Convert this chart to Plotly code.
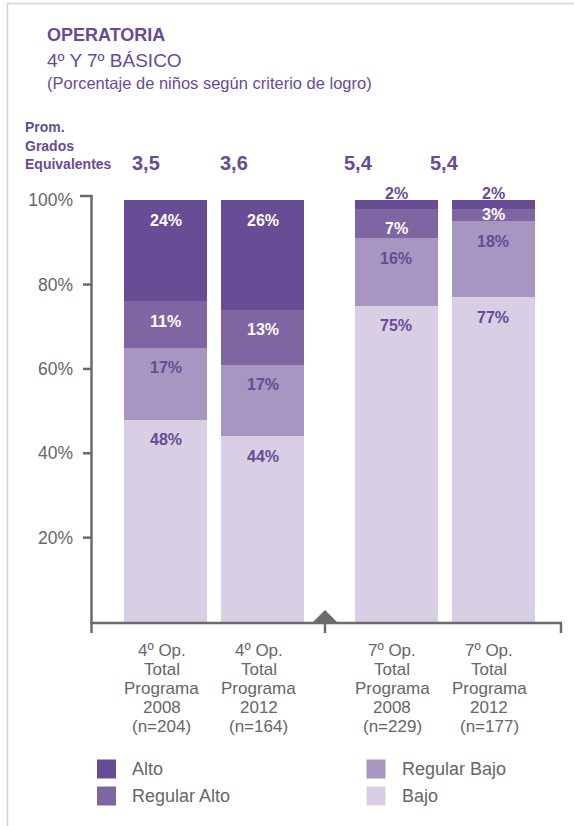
import plotly.graph_objects as go

# ---- data -------------------------------------------------------------
GRADES = ["4º", "4º", "7º", "7º"]
YEARS = ["2008", "2012", "2008", "2012"]
SAMPLE_N = [204, 164, 229, 177]
PROM_GRADOS = ["3,5", "3,6", "5,4", "5,4"]

LEVELS = ["Alto", "Regular Alto", "Regular Bajo", "Bajo"]
ALTO = [24, 26, 2, 2]
REGULAR_ALTO = [11, 13, 7, 3]
REGULAR_BAJO = [17, 17, 16, 18]
BAJO = [48, 44, 75, 77]

Y_TICKS = [20, 40, 60, 80, 100]

# ---- styling / layout constants ----------------------------------------
PURPLE = "#674b94"
GREY = "#666666"
AXIS_GREY = "#6b6b6b"
FONT = "Liberation Sans, Arial, sans-serif"
COLORS = {
    "Alto": "#684c96",
    "Regular Alto": "#7f66a3",
    "Regular Bajo": "#a795c2",
    "Bajo": "#d8cfe5",
}

W, H = 574, 826
L, R, T, B = 92, 13, 196, 204
PW, PH = W - L - R, H - T - B

# slot positions: two groups of two bars with a wider gap between groups
GROUP_GAP = 0.38
positions = [i + (GROUP_GAP if i >= 2 else 0.0) for i in range(len(GRADES))]
BAR_WIDTH = 0.856
X_RANGE = [-0.758, -0.758 + PW / 97.0]
Y_RANGE = [0, 101]


def px(x):
    """pixel x -> paper x"""
    return (x - L) / PW


def py(y):
    """pixel y -> paper y"""
    return (H - B - y) / PH


fig = go.Figure()

series = {"Bajo": BAJO, "Regular Bajo": REGULAR_BAJO,
          "Regular Alto": REGULAR_ALTO, "Alto": ALTO}
for name in ["Bajo", "Regular Bajo", "Regular Alto", "Alto"]:
    fig.add_trace(go.Bar(
        x=positions, y=series[name], name=name, width=BAR_WIDTH,
        marker=dict(color=COLORS[name], line=dict(width=0)),
        showlegend=False, hoverinfo="name+y",
    ))

annotations = []
shapes = []

# segment value labels
for i, xpos in enumerate(positions):
    base = 0
    for name in ["Bajo", "Regular Bajo", "Regular Alto", "Alto"]:
        v = series[name][i]
        top = base + v
        dark = name in ("Alto", "Regular Alto")
        if name == "Alto" and v < 5:
            y, shift, col = top, 7, PURPLE          # tiny top segment: label above bar
        elif v < 5:
            y, shift, col = base + v / 2, 0, "white"  # thin segment: centred
        else:
            y, shift, col = top, -20, "white" if dark else PURPLE
        annotations.append(dict(
            x=xpos, y=y, xref="x", yref="y", text=f"{v}%", showarrow=False,
            yshift=shift, yanchor="middle", xanchor="center",
            font=dict(family=FONT, size=16, color=col, weight="bold"),
        ))
        base = top

# average grade row
PROM_SHIFT = [-19.5, -28.5, -37.5, -48.5]
for i, xpos in enumerate(positions):
    annotations.append(dict(
        x=xpos, y=py(163), xref="x", yref="paper", text=PROM_GRADOS[i],
        showarrow=False, xshift=PROM_SHIFT[i], xanchor="center", yanchor="middle",
        font=dict(family=FONT, size=20, color=PURPLE, weight="bold"),
    ))
for txt, yy in zip(["Prom.", "Grados", "Equivalentes"], [127, 146, 164]):
    annotations.append(dict(
        x=px(23), y=py(yy), xref="paper", yref="paper", text=txt, showarrow=False,
        xanchor="left", yanchor="middle",
        font=dict(family=FONT, size=14, color=PURPLE, weight="bold"),
    ))

# titles
annotations += [
    dict(x=px(45), y=py(35), xref="paper", yref="paper", text="OPERATORIA",
         showarrow=False, xanchor="left", yanchor="middle",
         font=dict(family=FONT, size=18, color=PURPLE, weight="bold")),
    dict(x=px(45), y=py(60), xref="paper", yref="paper", text="4º Y 7º BÁSICO",
         showarrow=False, xanchor="left", yanchor="middle",
         font=dict(family=FONT, size=19, color=PURPLE)),
    dict(x=px(45), y=py(83), xref="paper", yref="paper",
         text="(Porcentaje de niños según criterio de logro)",
         showarrow=False, xanchor="left", yanchor="middle",
         font=dict(family=FONT, size=16.5, color=PURPLE)),
]

# category labels under the axis
for i, xpos in enumerate(positions):
    lines = [f"{GRADES[i]} Op.", "Total", "Programa", YEARS[i], f"(n={SAMPLE_N[i]})"]
    for k, line in enumerate(lines):
        annotations.append(dict(
            x=xpos, y=py(650 + 19 * k), xref="x", yref="paper", text=line,
            showarrow=False, xshift=-4, xanchor="center", yanchor="middle",
            font=dict(family=FONT, size=17, color=GREY),
        ))

# legend
legend_items = [("Alto", 97, 769), ("Regular Alto", 97, 796),
                ("Regular Bajo", 366.5, 769), ("Bajo", 366.5, 796)]
for name, lx, ly in legend_items:
    shapes.append(dict(type="rect", xref="paper", yref="paper",
                       x0=px(lx), x1=px(lx + 19), y0=py(ly - 9.5), y1=py(ly + 9.5),
                       fillcolor=COLORS[name], line=dict(width=0), layer="above"))
    annotations.append(dict(
        x=px(lx + 33), y=py(ly), xref="paper", yref="paper", text=name,
        showarrow=False, xanchor="left", yanchor="middle",
        font=dict(family=FONT, size=18, color=GREY),
    ))

# axes drawn as lines
AX_W = 2.5
shapes.append(dict(type="line", xref="paper", yref="paper",
                   x0=px(91.5), x1=px(91.5), y0=py(195), y1=py(633),
                   line=dict(color=AXIS_GREY, width=AX_W)))
shapes.append(dict(type="line", xref="paper", yref="paper",
                   x0=px(80), x1=px(92.5), y0=py(196), y1=py(196),
                   line=dict(color=AXIS_GREY, width=AX_W)))
shapes.append(dict(type="line", xref="paper", yref="paper",
                   x0=px(90.5), x1=px(562), y0=py(623), y1=py(623),
                   line=dict(color=AXIS_GREY, width=AX_W)))
for v in Y_TICKS[:-1]:
    shapes.append(dict(type="line", xref="paper", yref="y",
                       x0=px(83), x1=px(92), y0=v, y1=v,
                       line=dict(color=AXIS_GREY, width=AX_W)))
SEP_PX = 325
for xx in (SEP_PX, 561):
    shapes.append(dict(type="line", xref="paper", yref="paper",
                       x0=px(xx), x1=px(xx), y0=py(623), y1=py(633),
                       line=dict(color=AXIS_GREY, width=AX_W)))
# group separator marker
shapes.append(dict(type="path", xref="paper", yref="paper",
                   path=(f"M {px(SEP_PX - 13)},{py(623)} L {px(SEP_PX)},{py(610)} "
                         f"L {px(SEP_PX + 13)},{py(623)} Z"),
                   fillcolor=AXIS_GREY, line=dict(width=0)))

# frame
FRAME = "#d3d3d3"
shapes.append(dict(type="line", xref="paper", yref="paper",
                   x0=px(7.5), x1=px(7.5), y0=py(3.5), y1=py(H + 2),
                   line=dict(color=FRAME, width=1.5)))
shapes.append(dict(type="line", xref="paper", yref="paper",
                   x0=px(7), x1=px(W + 2), y0=py(3.5), y1=py(3.5),
                   line=dict(color=FRAME, width=1.5)))

fig.update_layout(
    width=W, height=H,
    margin=dict(l=L, r=R, t=T, b=B, pad=0),
    barmode="stack",
    plot_bgcolor="white", paper_bgcolor="white",
    showlegend=False,
    font=dict(family=FONT, color=GREY),
    xaxis=dict(range=X_RANGE, showgrid=False, zeroline=False, showline=False,
               showticklabels=False, ticks="", fixedrange=True),
    yaxis=dict(range=Y_RANGE, showgrid=False, zeroline=False, showline=False,
               tickvals=Y_TICKS, ticktext=[f"{v}%" for v in Y_TICKS],
               ticks="", ticklabelstandoff=18,
               tickfont=dict(family=FONT, size=17.5, color=GREY), fixedrange=True),
    annotations=annotations,
    shapes=shapes,
)

fig.write_html("out.html")
